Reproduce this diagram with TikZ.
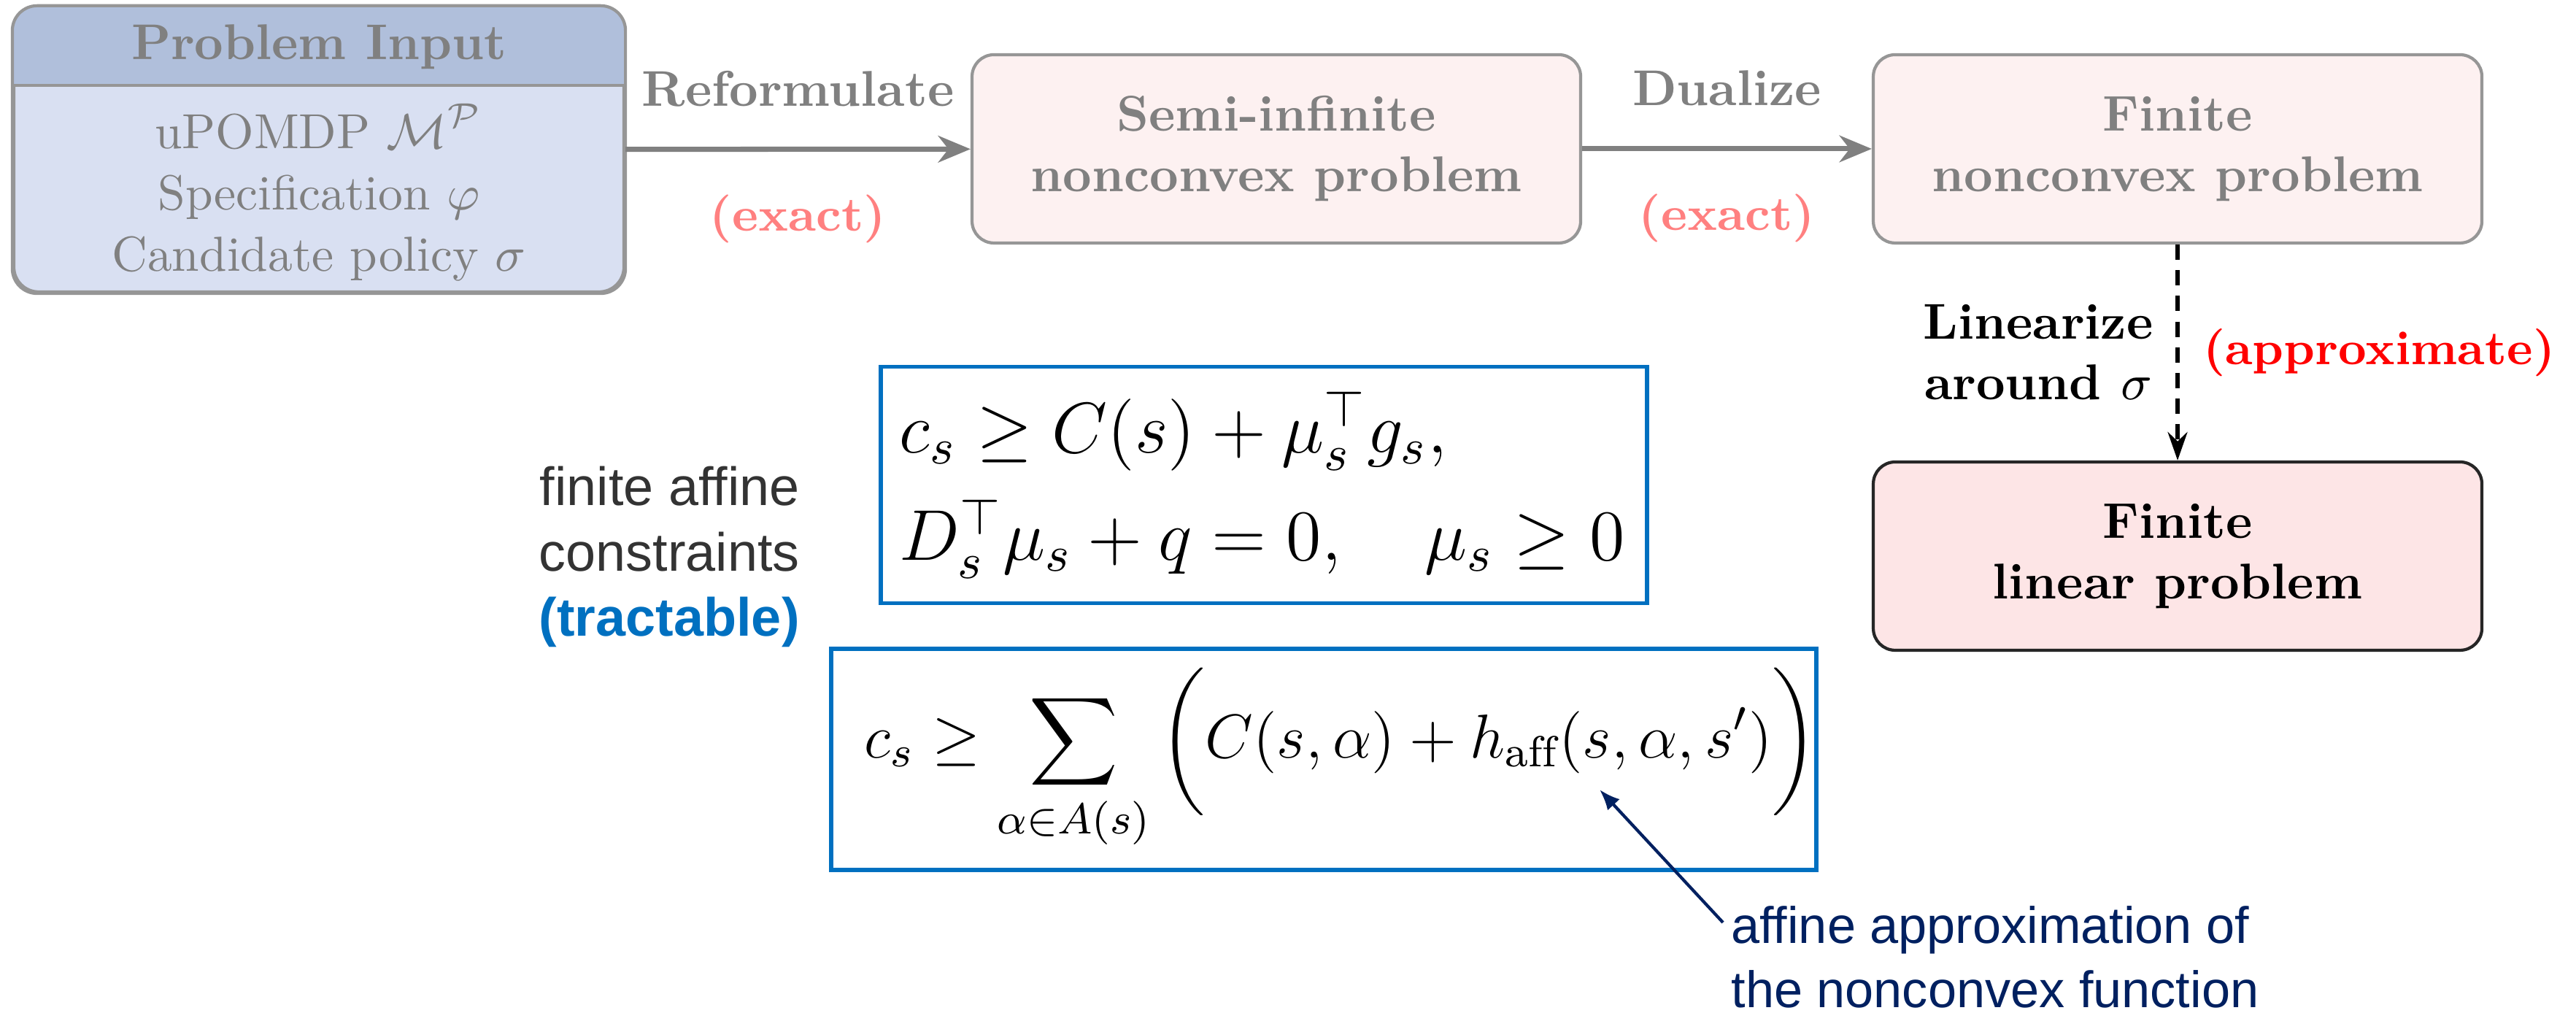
\RequirePackage{fix-cm}
\documentclass[tikz,border=0pt]{standalone}
\usepackage{amsmath}
\usepackage{fontspec}
\usepackage{tikz}
\usetikzlibrary{arrows.meta,positioning,calc}
\newfontfamily\arialfont{Liberation Sans}
\newcommand{\mainsize}{\fontsize{9.8}{11.8}\selectfont}
\definecolor{fadegray}{RGB}{128,128,128}
\definecolor{boxgray}{RGB}{150,150,150}
\definecolor{titleblue}{RGB}{176,191,219}
\definecolor{bodyblue}{RGB}{217,224,242}
\definecolor{pinkfade}{RGB}{253,241,241}
\definecolor{pinkstrong}{RGB}{253,229,230}
\definecolor{redfade}{RGB}{255,128,128}
\definecolor{mathblue}{RGB}{0,112,192}
\definecolor{notenavy}{RGB}{0,32,96}
\definecolor{labelgray}{RGB}{51,51,51}

\begin{document}
\begin{tikzpicture}[
    fadebox/.style={draw=boxgray, line width=0.6pt, fill=pinkfade, rounded corners=0.15cm,
      minimum width=4.17cm, minimum height=1.29cm, align=center, text=fadegray, font=\mainsize\bfseries},
    linbox/.style={fadebox, draw=black!85, fill=pinkstrong, text=black},
    mathbox/.style={draw=mathblue, line width=0.75pt},
    fadearrow/.style={fadegray, line width=1pt, -{Stealth[length=6.3pt,width=5.2pt,inset=2pt]}},
    dasharrow/.style={black, line width=0.9pt, dash pattern=on 3pt off 2pt, -{Stealth[length=5.5pt,width=3.8pt]}},
    notearrow/.style={notenavy, line width=0.6pt, -{Latex[length=4pt,width=3.2pt]}}]
  \useasboundingbox (0,0) rectangle (17.65,6.94);
  \node[draw=boxgray, line width=0.6pt, fill=bodyblue, rounded corners=0.17cm,
    minimum width=4.18cm, minimum height=1.95cm] (input) at (2.185,5.915) {};
  \begin{scope}
    \clip[rounded corners=0.17cm] (input.south west) rectangle (input.north east);
    \fill[titleblue] (input.north west) rectangle ($(input.east)+(0,0.44)$);
  \end{scope}
  \draw[boxgray, line width=0.6pt] ($(input.west)+(0,0.44)$) -- ($(input.east)+(0,0.44)$);
  \draw[boxgray, line width=0.6pt, rounded corners=0.17cm] (input.south west) rectangle (input.north east);
  \node[font=\mainsize\bfseries, text=fadegray] (inputtitle) at (2.185,6.62) {Problem Input};
  \node[font=\fontsize{9.6}{12}\selectfont, text=fadegray, align=center] (inputitems) at (2.185,5.62)
    {uPOMDP $\mathcal{M}^{\mathcal{P}}$\\ Specification $\varphi$\\ Candidate policy $\sigma$};

  \node[fadebox] (semi) at (8.745,5.92) {Semi-infinite\\nonconvex problem};
  \node[fadebox] (finite) at (14.92,5.92) {Finite\\nonconvex problem};
  \node[linbox] (linear) at (14.92,3.13) {Finite\\linear problem};

  \draw[fadearrow] (input) -- (semi)
    node[midway, above=4.5pt, text=fadegray, font=\mainsize\bfseries] {Reformulate}
    node[midway, below=5pt, text=redfade, font=\fontsize{9.4}{11}\selectfont\bfseries] {(exact)};
  \draw[fadearrow] (semi) -- (finite)
    node[midway, above=4.5pt, text=fadegray, font=\mainsize\bfseries] {Dualize}
    node[midway, below=5pt, text=redfade, font=\fontsize{9.4}{11}\selectfont\bfseries] {(exact)};
  \draw[dasharrow] (finite) -- (linear)
    node[midway, left=1pt, align=center, font=\mainsize\bfseries] {Linearize\\around $\sigma$}
    node[midway, right=1.2pt, text=red, font=\fontsize{9.3}{11}\selectfont\bfseries] {(approximate)};

  \node[mathbox, minimum width=5.25cm, minimum height=1.62cm] (duals) at (8.66,3.6175) {};
  \node[anchor=west, inner sep=0pt, align=left, font=\fontsize{14}{21}\selectfont] (dualstext)
    at ($(duals.west)+(0.135,0)$)
    {$c_s \geq C(s) + \mu_s^{\top} g_s,$\\ $D_s^{\top}\mu_s + q = 0, \quad \mu_s \geq 0$};
  \node[mathbox, minimum width=6.75cm, minimum height=1.515cm] (sumcons) at (9.07,1.7375) {};
  \node[anchor=west, inner sep=0pt, font=\fontsize{12.1}{14}\selectfont] (sumtext)
    at ($(sumcons.west)+(0.235,0)$)
    {$\displaystyle c_s \geq \sum_{\alpha\in A(s)} \bigg( C(s,\alpha) + h_{\mathrm{aff}}(s,\alpha,s') \bigg)$};

  \node[anchor=east, inner sep=0pt, align=right, text=labelgray,
    font=\arialfont\fontsize{10.5}{12.7}\selectfont] (tractlbl) at (5.485,3.125)
    {finite affine\\constraints\\\textcolor{mathblue}{\bfseries (tractable)}};
  \node[anchor=north west, inner sep=0pt, align=left, text=notenavy,
    font=\arialfont\fontsize{10}{12.5}\selectfont] (affnote) at (11.855,0.74)
    {affine approximation of\\the nonconvex function};
  \coordinate (haff) at (10.96,1.53);
  \draw[notearrow] ([shift={(-0.05,-0.12)}]affnote.north west) -- (haff);
\end{tikzpicture}
\end{document}
